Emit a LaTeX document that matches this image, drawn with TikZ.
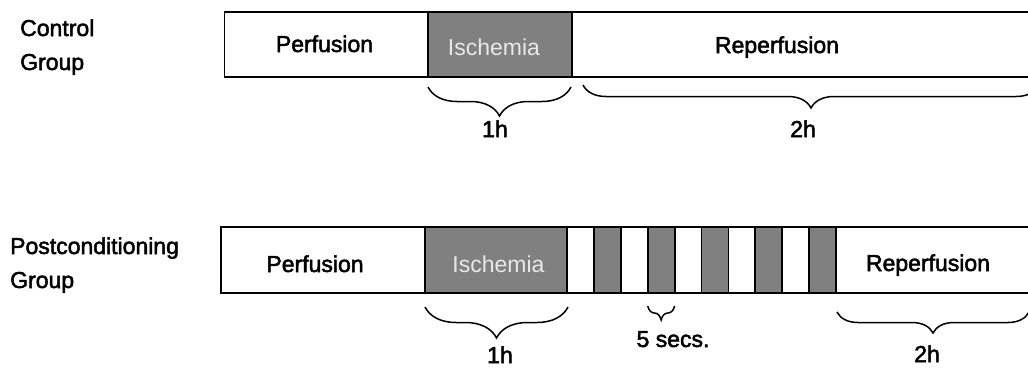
\documentclass[tikz,border=0pt]{standalone}
\usepackage{fontspec}
\setmainfont{Liberation Sans}
\newfontfamily\heavyfont{Liberation Sans}[FakeBold=2.2]
\usetikzlibrary{decorations.pathreplacing}
\definecolor{barfill}{HTML}{808080}
\definecolor{lighttext}{HTML}{E8E8E8}
\begin{document}
\begin{tikzpicture}[x=1pt,y=-1pt,
  seg/.style={draw=black, line width=1.8pt, rectangle, inner sep=0pt, outer sep=0pt, minimum height=66pt},
  greyseg/.style={seg, fill=barfill},
  lab/.style={font=\heavyfont\fontsize{23}{27}\selectfont, inner sep=0pt, anchor=base},
  brc/.style={draw, line width=1.5pt, decorate, decoration={brace, mirror, amplitude=#1}}]
\clip (0,0) rectangle (1028,367);
\fill[white] (0,0) rectangle (1028,367);
% control group bar
\node[seg, minimum width=203.5pt, minimum height=65pt] (per1) at (326.25,44.5) {};
\node[greyseg, minimum width=144pt, minimum height=65pt] (isc1) at (500,44.5) {};
\node[seg, minimum width=470pt, minimum height=65pt] (rep1) at (807,44.5) {};
% postconditioning group bar
\node[seg, minimum width=204pt] (per2) at (323,260) {};
\node[greyseg, minimum width=142pt] (isc2) at (496,260) {};
\foreach \i in {1,...,10}{
  \pgfmathsetmacro{\cx}{567+(\i-0.5)*26.9}
  \ifodd\i
    \node[seg, minimum width=26.9pt] (s\i) at (\cx,260) {};
  \else
    \node[greyseg, minimum width=26.9pt] (s\i) at (\cx,260) {};
  \fi
}
\node[seg, minimum width=206pt] (rep2) at (939,260) {};
% texts in bars
\node[lab] (tper1) at (324.5,52) {Perfusion};
\node[lab, text=lighttext, font=\rmfamily\fontsize{23}{27}\selectfont] (tisc1) at (494,55) {Ischemia};
\node[lab] (trep1) at (777,53) {Reperfusion};
\node[lab] (tper2) at (315,272) {Perfusion};
\node[lab, text=lighttext, font=\rmfamily\fontsize{23}{27}\selectfont] (tisc2) at (498.5,272) {Ischemia};
\node[lab] (trep2) at (928,271) {Reperfusion};
% group labels
\node[lab, anchor=base west] (c1) at (20,36) {Control};
\node[lab, anchor=base west] (c2) at (20,70) {Group};
\node[lab, anchor=base west] (p1) at (10,254) {Postconditioning};
\node[lab, anchor=base west] (p2) at (10,288) {Group};
% braces
\draw[brc=29] ([yshift=-10pt]isc1.south west) -- ([xshift=-1pt,yshift=-10pt]isc1.south east);
\draw[brc=23] ([xshift=11pt,yshift=-8pt]rep1.south west) -- ([xshift=-3pt,yshift=-8pt]rep1.south east);
\draw[brc=31] ([yshift=-14pt]isc2.south west) -- ([xshift=1pt,yshift=-14pt]isc2.south east);
\draw[brc=14] ([yshift=-13pt]s4.south west) -- ([yshift=-13pt]s4.south east);
\draw[brc=21] ([xshift=1pt,yshift=-19pt]rep2.south west) -- ([xshift=-13pt,yshift=-19pt]rep2.south east);
% brace labels
\node[lab] (h1) at (495,137) {1h};
\node[lab] (h2) at (803,137) {2h};
\node[lab] (h3) at (500,363) {1h};
\node[lab] (sec) at (673,347) {5 secs.};
\node[lab] (h4) at (927,362) {2h};
\end{tikzpicture}
\end{document}
